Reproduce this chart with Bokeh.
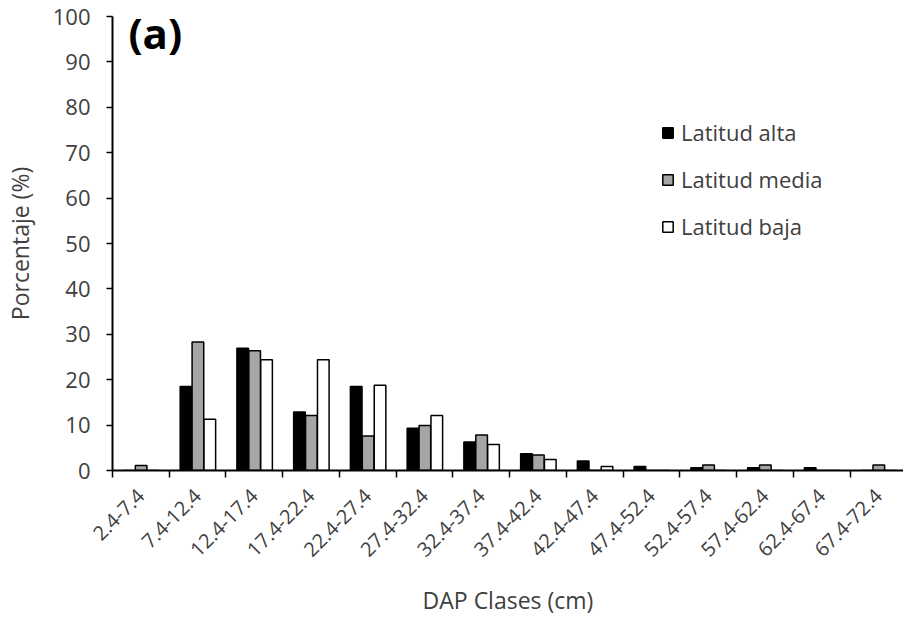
from math import pi

from bokeh.embed import file_html
from bokeh.models import ColumnDataSource, FixedTicker, Label, Legend, LegendItem, Range1d
from bokeh.plotting import figure
from bokeh.resources import INLINE

# Diameter classes (DAP, cm)
classes = ["2.4-7.4", "7.4-12.4", "12.4-17.4", "17.4-22.4", "22.4-27.4", "27.4-32.4",
           "32.4-37.4", "37.4-42.4", "42.4-47.4", "47.4-52.4", "52.4-57.4", "57.4-62.4",
           "62.4-67.4", "67.4-72.4"]

# Percentage of trees per class, by latitude
lat_alta = [0.0, 18.5, 26.9, 12.9, 18.5, 9.3, 6.3, 3.7, 2.1, 0.9, 0.6, 0.6, 0.6, 0.0]
lat_media = [1.1, 28.3, 26.4, 12.1, 7.6, 9.9, 7.8, 3.4, 0.0, 0.0, 1.2, 1.2, 0.0, 1.2]
lat_baja = [0.0, 11.3, 24.4, 24.4, 18.8, 12.1, 5.7, 2.4, 0.9, 0.0, 0.0, 0.0, 0.0, 0.0]

series = [
    ("Latitud alta", lat_alta, "#000000", -0.205),
    ("Latitud media", lat_media, "#a6a6a6", 0.005),
    ("Latitud baja", lat_baja, "#ffffff", 0.215),
]

TEXT = "#404040"
FONT = "Open Sans"

n = len(classes)
centers = [i + 0.5 for i in range(n)]
bounds = [float(i) for i in range(n + 1)]

p = figure(width=903, height=619, output_backend="svg", toolbar_location=None,
           x_range=Range1d(0, 13.94), y_range=Range1d(0, 100),
           min_border_left=111, min_border_right=0, min_border_top=16, min_border_bottom=149)
p.outline_line_color = None
p.xgrid.visible = False
p.ygrid.visible = False
p.background_fill_color = "white"
p.border_fill_color = "white"

items = []
for name, vals, color, off in series:
    src = ColumnDataSource(dict(x=[c + off for c in centers], top=vals))
    r = p.vbar(x="x", top="top", width=0.205, bottom=0, source=src,
               fill_color=color, line_color="black", line_width=1.5)
    items.append(LegendItem(label=name, renderers=[r]))

legend = Legend(items=items, location=(549, 229), orientation="vertical",
                glyph_width=13, glyph_height=13, label_height=20, spacing=17,
                padding=0, margin=0, label_standoff=7,
                label_text_font=FONT, label_text_font_size="22px",
                label_text_color=TEXT, border_line_color=None,
                background_fill_alpha=0)
p.add_layout(legend)

# X axis: class labels at centres, tick marks at class boundaries
xa = p.xaxis[0]
xa.ticker = FixedTicker(ticks=centers, minor_ticks=bounds)
xa.major_label_overrides = {c: lab for c, lab in zip(centers, classes)}
xa.major_label_orientation = pi / 4
xa.major_tick_out = 0
xa.major_tick_in = 0
xa.minor_tick_out = 7
xa.minor_tick_in = 0
xa.minor_tick_line_color = "black"
xa.minor_tick_line_width = 1.5
xa.axis_line_color = "black"
xa.axis_line_width = 2
xa.major_label_text_font = FONT
xa.major_label_text_font_size = "20px"
xa.major_label_text_color = TEXT
xa.major_label_standoff = 15
xa.axis_label = "DAP Clases (cm)"
xa.axis_label_text_font = FONT
xa.axis_label_text_font_size = "23px"
xa.axis_label_text_font_style = "normal"
xa.axis_label_text_color = TEXT
xa.axis_label_standoff = 18

# Y axis
ya = p.yaxis[0]
ya.ticker = FixedTicker(ticks=list(range(0, 101, 10)))
ya.minor_tick_line_color = None
ya.major_tick_out = 6
ya.major_tick_in = 0
ya.major_tick_line_color = "black"
ya.major_tick_line_width = 1.5
ya.axis_line_color = "black"
ya.axis_line_width = 2
ya.major_label_text_font = FONT
ya.major_label_text_font_size = "22px"
ya.major_label_text_color = TEXT
ya.major_label_standoff = 16
ya.axis_label = "Porcentaje (%)"
ya.axis_label_text_font = FONT
ya.axis_label_text_font_size = "23px"
ya.axis_label_text_font_style = "normal"
ya.axis_label_text_color = TEXT
ya.axis_label_standoff = 14

p.add_layout(Label(x=0.28, y=90.2, text="(a)", text_font=FONT, text_font_size="42px",
                   text_font_style="bold", text_color="black"))

open("out.html", "w").write(file_html(p, INLINE))
